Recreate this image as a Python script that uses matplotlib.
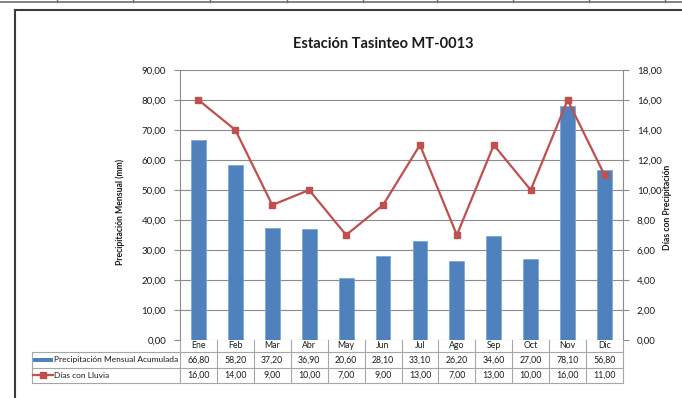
import matplotlib
matplotlib.use("Agg")
import matplotlib.pyplot as plt
from matplotlib import transforms
from matplotlib.lines import Line2D
from matplotlib.patches import Rectangle
from matplotlib.ticker import FuncFormatter, MultipleLocator

plt.rcParams['font.family'] = ['Lato', 'DejaVu Sans']

months = ["Ene", "Feb", "Mar", "Abr", "May", "Jun", "Jul", "Ago", "Sep", "Oct", "Nov", "Dic"]
precip_mm = [66.80, 58.20, 37.20, 36.90, 20.60, 28.10, 33.10, 26.20, 34.60, 27.00, 78.10, 56.80]
rain_days = [16, 14, 9, 10, 7, 9, 13, 7, 13, 10, 16, 11]
series_names = ["Precipitación Mensual Acumulada", "Días con Lluvia"]

title = "Estación Tasinteo MT-0013"
left_label = "Precipitación Mensual (mm)"
right_label = "Días con Precipitación"

BLUE = "#4F81BD"
RED = "#C0504D"
GRID = "#8C8C8C"
TABLE = "#A6A6A6"
TXT = "#1A1A1A"

W, H = 682, 398
fig = plt.figure(figsize=(W / 100, H / 100), dpi=100)
fig.patch.set_facecolor("white")


def fx(px):
    return px / W


def fy(py):
    return 1 - py / H


# spreadsheet cell borders above the chart object
fig.add_artist(Line2D([0, 1], [fy(1.5), fy(1.5)], color="#6E6E6E", lw=1.2))
for cx in [57, 133, 210, 287, 363, 437, 513, 589, 665]:
    fig.add_artist(Line2D([fx(cx), fx(cx)], [fy(0), fy(2)], color="#6E6E6E", lw=1))

# chart object border
fig.add_artist(Line2D([fx(15), fx(15)], [fy(10), 0], color="#3C3C3C", lw=1.5))
fig.add_artist(Line2D([fx(15), 1], [fy(10), fy(10)], color="#3C3C3C", lw=1.5))

ax_l, ax_r, ax_t, ax_b = 180, 623, 70, 340
ax = fig.add_axes([fx(ax_l), fy(ax_b), fx(ax_r - ax_l), (ax_b - ax_t) / H])
ax2 = ax.twinx()

x = list(range(len(months)))
ax.bar(x, precip_mm, width=0.4, color=BLUE, edgecolor="#7EA6D6", linewidth=0.6, zorder=2)
ax2.plot(x, rain_days, color=RED, lw=1.6, marker="s", markersize=4.2,
         markerfacecolor=RED, markeredgecolor=RED, zorder=3)

ax.set_xlim(-0.5, len(months) - 0.5)
ax.set_ylim(0, 90)
ax2.set_ylim(0, 18)
ax.yaxis.set_major_locator(MultipleLocator(10))
ax2.yaxis.set_major_locator(MultipleLocator(2))
comma = FuncFormatter(lambda v, p: f"{v:.2f}".replace(".", ","))
ax.yaxis.set_major_formatter(comma)
ax2.yaxis.set_major_formatter(comma)
ax.grid(axis="y", color=GRID, lw=0.8, zorder=0)
ax.set_axisbelow(True)
ax.set_xticks([])

for a in (ax, ax2):
    for s in ("top", "bottom"):
        a.spines[s].set_visible(False)
    a.spines["left"].set_color(GRID)
    a.spines["right"].set_color(GRID)
    a.spines["left"].set_linewidth(0.8)
    a.spines["right"].set_linewidth(0.8)
ax2.spines["left"].set_visible(False)
ax.spines["right"].set_visible(False)
ax.tick_params(axis="y", length=4, color=GRID, width=0.8, labelsize=7, labelcolor=TXT, pad=6)
ax2.tick_params(axis="y", length=4, color=GRID, width=0.8, labelsize=7, labelcolor=TXT, pad=6)

fig.text(fx(383), fy(44), title, ha="center", va="center", fontsize=10.5,
         fontweight="bold", color=TXT)
fig.text(fx(120), fy(212), left_label, rotation=90, ha="center", va="center",
         fontsize=6.2, fontweight="bold", color=TXT)
fig.text(fx(667), fy(207), right_label, rotation=90, ha="center", va="center",
         fontsize=6.2, fontweight="bold", color=TXT)

# data table below the plot
bt = transforms.blended_transform_factory(ax.transData, fig.transFigure)
tab_left = 32
row_lines = [352, 367.5, 383]
n = len(months)

for ry in row_lines:
    fig.add_artist(Line2D([fx(tab_left), fx(ax_r)], [fy(ry), fy(ry)], color=TABLE, lw=0.8))
fig.add_artist(Line2D([fx(tab_left), fx(tab_left)], [fy(row_lines[0]), fy(row_lines[-1])],
                      color=TABLE, lw=0.8))
for i in range(n + 1):
    xb = i - 0.5
    fig.add_artist(Line2D([xb, xb], [fy(ax_b), fy(row_lines[-1])], color=TABLE, lw=0.8,
                          transform=bt))

for i, m in enumerate(months):
    fig.text(i, fy((ax_b + row_lines[0]) / 2), m, transform=bt, ha="center", va="center",
             fontsize=6.3, color=TXT)
    fig.text(i, fy((row_lines[0] + row_lines[1]) / 2), f"{precip_mm[i]:.2f}".replace(".", ","),
             transform=bt, ha="center", va="center", fontsize=6.3, color=TXT)
    fig.text(i, fy((row_lines[1] + row_lines[2]) / 2), f"{rain_days[i]:.2f}".replace(".", ","),
             transform=bt, ha="center", va="center", fontsize=6.3, color=TXT)

# legend keys inside the table
y1 = (row_lines[0] + row_lines[1]) / 2
y2 = (row_lines[1] + row_lines[2]) / 2
fig.add_artist(Rectangle((fx(33), fy(y1 + 2)), fx(20), 4 / H, facecolor=BLUE, edgecolor="none"))
fig.add_artist(Line2D([fx(33), fx(53)], [fy(y2), fy(y2)], color=RED, lw=1.6))
fig.add_artist(Line2D([fx(43)], [fy(y2)], color=RED, marker="s", markersize=4.2, lw=0))
fig.text(fx(54), fy(y1), series_names[0], ha="left", va="center", fontsize=6.0, color=TXT)
fig.text(fx(54), fy(y2), series_names[1], ha="left", va="center", fontsize=6.0, color=TXT)

fig.savefig("out.png", dpi=100)
